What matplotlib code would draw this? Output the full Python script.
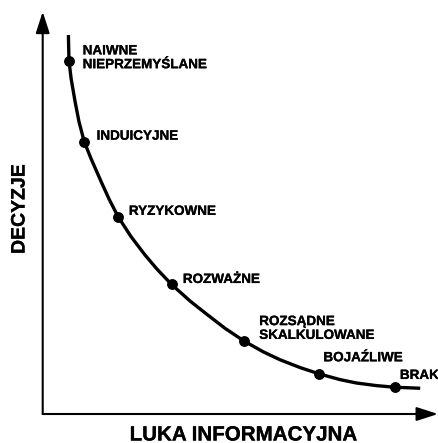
import matplotlib
matplotlib.use("Agg")
import matplotlib.pyplot as plt
import matplotlib.patheffects as pe

plt.rcParams['font.family'] = ['Liberation Sans', 'DejaVu Sans']
plt.rcParams['font.weight'] = 'bold'

# curve (information gap vs. decisions)
curve_x = [6.5, 6.65, 7.2, 8.2, 9.18, 10.5, 12.22, 14.9, 16.85, 19.1, 22.34, 25.9, 28.84,
           32.6, 37.26, 41.5, 46.12, 50.9, 55.81, 60.0, 65.09, 70.0, 75.21, 79.4, 84.49,
           89.1, 95.5]
curve_y = [94.2, 87.75, 83.3, 77.6, 72.66, 67.7, 63.5, 57.5, 53.3, 49.0, 44.1, 39.5, 36.1,
           32.2, 28.1, 24.8, 21.3, 18.15, 15.45, 13.5, 11.55, 9.95, 8.55, 7.7, 7.05,
           6.65, 6.4]

# labelled decision types
labels = ["NAIWNE\nNIEPRZEMYŚLANE", "INDUICYJNE", "RYZYKOWNE", "ROZWAŻNE",
          "ROZSĄDNE\nSKALKULOWANE", "BOJAŹLIWE", "BRAK"]
point_x = [6.65, 10.5, 19.1, 32.6, 50.9, 70.0, 89.1]
point_y = [87.75, 67.7, 49.0, 32.2, 18.15, 9.95, 6.65]

x_label = "LUKA INFORMACYJNA"
y_label = "DECYZJE"

W, H = 438, 443
fig = plt.figure(figsize=(W / 100, H / 100), dpi=100)
ox, oy = 42.7, 414.0       # axis origin in pixels
tx, ty = 438.0, 11.7       # arrow tips
ax = fig.add_axes([ox / W, (H - oy) / H, (tx - ox) / W, (oy - ty) / H])
ax.set_xlim(0, 100)
ax.set_ylim(0, 100)
ax.axis('off')

arrow = dict(arrowstyle='-|>,head_length=1.3,head_width=0.42', color='black',
             lw=1.5, shrinkA=0, shrinkB=0)
ax.annotate('', xy=(1, 0), xytext=(0, 0), xycoords='axes fraction', arrowprops=arrow,
            annotation_clip=False)
ax.annotate('', xy=(0, 1), xytext=(0, 0), xycoords='axes fraction', arrowprops=arrow,
            annotation_clip=False)

ax.plot(curve_x, curve_y, color='black', lw=2.4, solid_capstyle='butt',
        solid_joinstyle='round', clip_on=False)
ax.plot(point_x, point_y, 'o', color='black', ms=6.8, clip_on=False)

heavy = [pe.withStroke(linewidth=0.2, foreground='black')]
offsets = [(13.7, 2.7), (12.4, 5), (10.7, 5), (11.3, 4.5), (15.3, 12), (4, 15.7), (5, 11.3)]
for lab, px, py, off in zip(labels, point_x, point_y, offsets):
    ax.annotate(lab, xy=(px, py), xytext=off, textcoords='offset pixels',
                ha='left', va='center', fontsize=9.7, fontweight='bold',
                linespacing=1.2, annotation_clip=False, path_effects=heavy)

fig.text(243 / W, 1 - 435 / H, x_label, ha='center', va='center',
         fontsize=14.8, fontweight='bold', path_effects=heavy)
fig.text(20 / W, 1 - 209 / H, y_label, ha='center', va='center', rotation=90,
         fontsize=14, fontweight='bold', path_effects=heavy)

fig.savefig('out.png', dpi=100, facecolor='white')
